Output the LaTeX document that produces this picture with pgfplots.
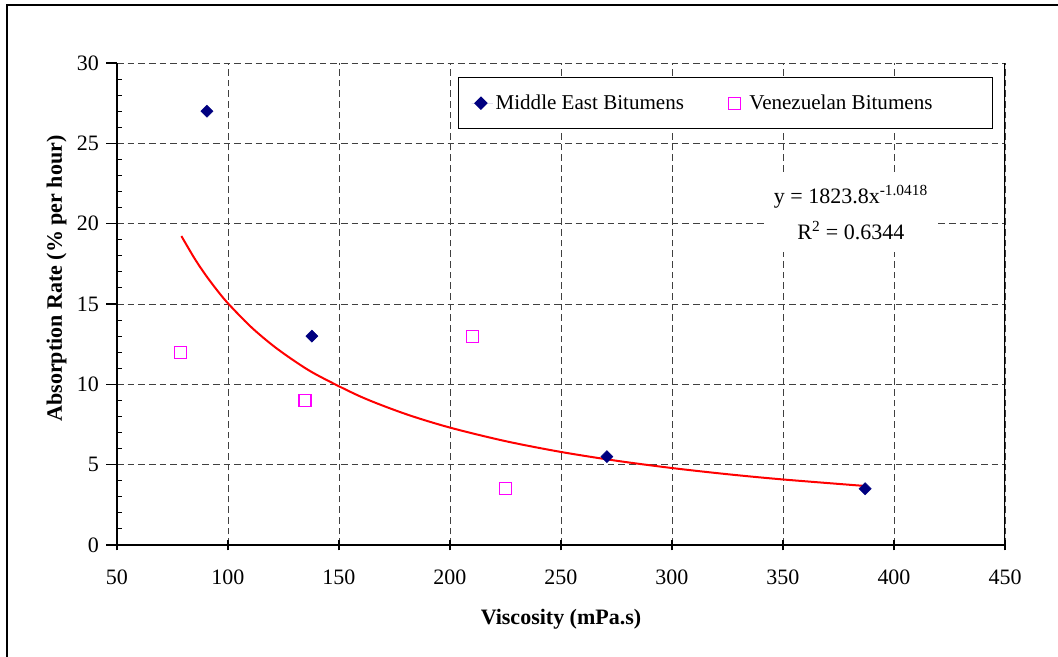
\documentclass[border=0pt]{standalone}
\usepackage{pgfplots}
\pgfplotsset{compat=1.18}
\usepackage{fontspec}
\setmainfont{Liberation Serif}
\definecolor{navyme}{RGB}{0,0,128}
\definecolor{magv}{RGB}{255,0,255}
\begin{document}
\begin{tikzpicture}[x=1pt,y=1pt]
\useasboundingbox (-87.75,-84) rectangle (705.75,408.75);
\draw[line width=1.5pt] (-82.5,-84.5) -- (-82.5,405) -- (706.5,405);
\begin{axis}[
  at={(0,0)}, anchor=south west,
  scale only axis, width=666pt, height=361.5pt,
  xmin=50, xmax=450, ymin=0, ymax=30,
  xtick={50,100,...,450}, ytick={0,5,...,30},
  minor y tick num=4,
  axis x line*=bottom, axis y line*=left,
  axis line style={line width=0.9pt, -},
  xtick align=center, ytick align=outside,
  major tick length=8pt, minor tick length=3.75pt,
  tick style={black, line width=0.8pt},
  minor y tick style={xshift=3.75pt},
  grid=major,
  major grid style={black!75, dash pattern=on 5pt off 3pt, line width=0.7pt},
  /pgf/number format/assume math mode=true,
  tick label style={font=\fontsize{16.5}{18}\selectfont},
  xticklabel style={yshift=-11pt},
  yticklabel style={xshift=-2pt},
  xlabel={\textbf{Viscosity (mPa.s)}},
  ylabel={\textbf{Absorption Rate (\% per hour)}},
  label style={font=\fontsize{16.5}{18}\selectfont},
  xlabel style={yshift=-12pt},
  ylabel style={at={(ticklabel cs:0.553)}, yshift=1pt},
  legend columns=2,
  legend style={at={(0.9865,0.971)}, anchor=north east, draw=black, line width=0.8pt,
    font=\fontsize{15.8}{18}\selectfont, inner xsep=10pt, inner ysep=11pt,
    /tikz/every even column/.append style={column sep=29pt}},
]
\addplot[only marks, mark=square*, mark size=3.2pt, navyme, fill=navyme,
  mark options={rotate=45},
  legend image code/.code={%
    \path[draw=none] (0pt,0pt) -- (16pt,0pt);
    \draw[navyme, fill=navyme, only marks, mark=square*, mark size=3.2pt,
      mark options={rotate=45}] plot coordinates {(7pt,0pt)};}]
  coordinates {(90.5,27) (137.8,13) (270.7,5.5) (387,3.5)};
\addlegendentry{Middle East Bitumens}
\addplot[only marks, mark=square, mark size=4.5pt, magv, line width=0.8pt,
  legend image code/.code={%
    \path[draw=none] (0pt,0pt) -- (16pt,0pt);
    \draw[magv, line width=0.8pt, only marks, mark=square, mark size=4.5pt]
      plot coordinates {(7pt,0pt)};}]
  coordinates {(78.8,12) (134.7,9) (210,13) (225.2,3.5)};
\addlegendentry{Venezuelan Bitumens\hspace*{33pt}\mbox{}}
\addplot[red, line width=1.5pt, smooth, forget plot] coordinates {
  (79,19.23) (85,17.82) (90,16.79) (95,15.87) (100,15.04) (110,13.62) (120,12.44)
  (130,11.446) (140,10.59) (160,9.22) (180,8.154) (200,7.307) (225,6.464)
  (250,5.791) (275,5.244) (300,4.790) (325,4.406) (350,4.079) (387,3.673)};
\draw[line width=0.9pt] (rel axis cs:1,0) -- (rel axis cs:1,1);
\node[fill=white, align=center, inner xsep=6pt, inner ysep=9pt,
  font=\fontsize{16.5}{20}\selectfont] at (axis cs:380.6,20.7)
  {y = 1823.8x\textsuperscript{-1.0418}\\[7pt]R\textsuperscript{2} = 0.6344};
\end{axis}
\end{tikzpicture}
\end{document}
